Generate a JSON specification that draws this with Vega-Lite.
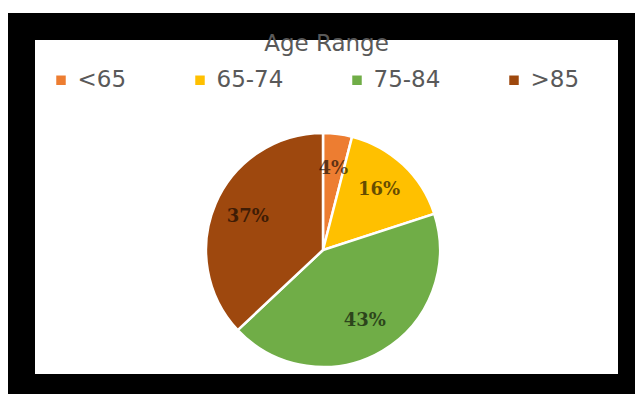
{
  "$schema": "https://vega.github.io/schema/vega-lite/v6.json",
  "width": 610,
  "height": 361,
  "autosize": "none",
  "padding": {"left": 21.5, "top": 26.5, "right": 13.5, "bottom": 13.5},
  "background": "white",
  "view": {"fill": "white", "stroke": "black", "strokeWidth": 27},
  "config": {
    "view": {"fill": "white", "stroke": "black", "strokeWidth": 27}
  },
  "title": {
    "text": "Age Range",
    "fontSize": 23,
    "font": "DejaVu Sans",
    "fontWeight": "normal",
    "color": "#595959",
    "offset": -47.5,
    "baseline": "alphabetic",
    "anchor": "middle"
  },
  "data": {
    "values": [
      {"age": "<65", "pct": 4, "idx": 1, "label": "4%"},
      {"age": "65-74", "pct": 16, "idx": 2, "label": "16%"},
      {"age": "75-84", "pct": 43, "idx": 3, "label": "43%"},
      {"age": ">85", "pct": 37, "idx": 4, "label": "37%"}
    ]
  },
  "encoding": {
    "theta": {"field": "pct", "type": "quantitative", "stack": true},
    "order": {"field": "idx", "type": "quantitative"}
  },
  "layer": [
    {
      "mark": {"type": "arc", "radius": 117, "stroke": "white", "strokeWidth": 2.5, "xOffset": -3.5, "yOffset": 43},
      "encoding": {
        "color": {
          "field": "age",
          "type": "nominal",
          "scale": {"domain": ["<65", "65-74", "75-84", ">85"], "range": ["#ED7D31", "#FFC000", "#70AD47", "#9E480E"]},
          "legend": {
            "orient": "none",
            "legendX": 28,
            "legendY": 42,
            "direction": "horizontal",
            "title": null,
            "symbolType": "square",
            "symbolSize": 90,
            "symbolStrokeWidth": 0,
            "labelFontSize": 23,
            "labelFont": "DejaVu Sans",
            "labelColor": "#595959",
            "labelOffset": 5,
            "columnPadding": 62,
            "padding": 0
          }
        }
      }
    },
    {
      "mark": {"type": "text", "radius": 82, "font": "DejaVu Serif", "fontWeight": "bold", "fontSize": 18, "fill": "black", "opacity": 0.6, "xOffset": -3.5, "yOffset": 43},
      "encoding": {
        "text": {"field": "label", "type": "nominal"}
      }
    }
  ]
}
